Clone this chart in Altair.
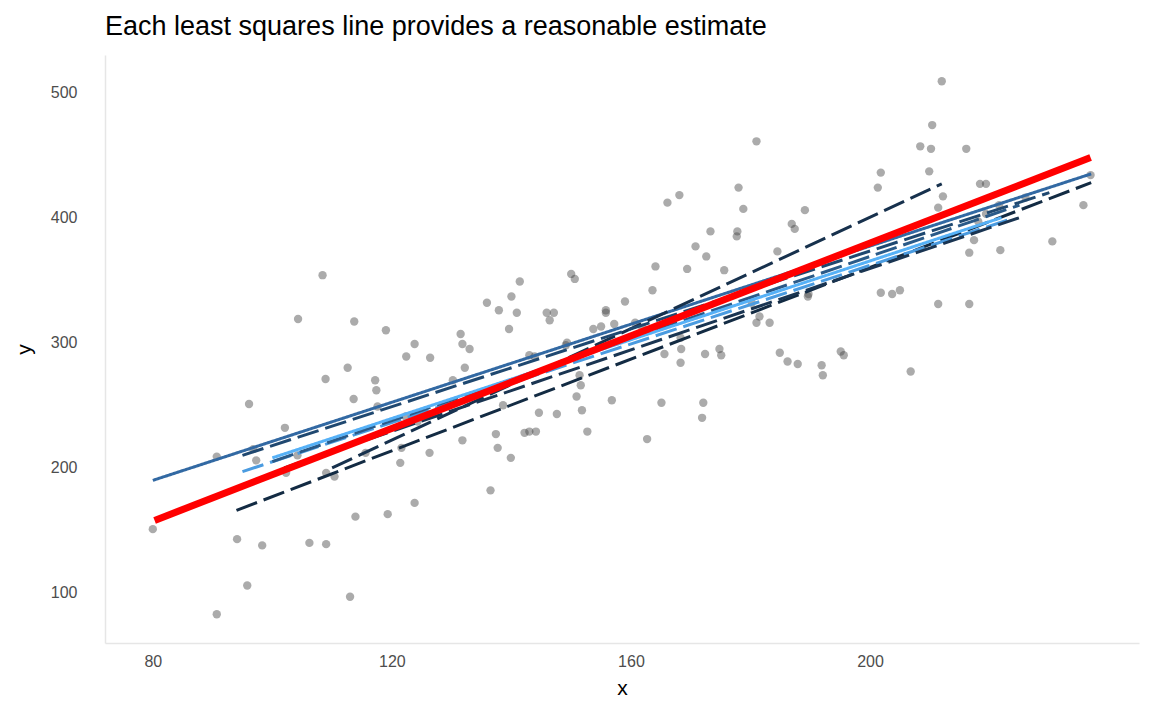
import pandas as pd
import altair as alt

# scatter points
px = [80, 90.7, 90.7, 94.1, 95.8, 96.1, 96.8, 97.3, 98.3, 102.1, 102.3, 104.2, 104.3, 106.2, 108.4,
      108.9, 109.0, 109.0, 110.4, 112.6, 113.0, 113.6, 113.7, 113.9, 115.6, 117.2, 117.4, 117.6, 119.0,
      119.3, 121.4, 121.6, 122.3, 122.4, 123.8, 123.8, 124.3, 126.3, 126.4, 130.2, 131.5, 131.8, 131.8,
      132.2, 133.0, 135.9, 136.5, 137.4, 137.7, 137.9, 138.6, 139.6, 139.9, 140.0, 140.9, 141.4, 142.2,
      143.0, 143.0, 143.9, 144.1, 144.6, 145.9, 146.4, 147.1, 147.6, 149.1, 149.3, 150.0, 150.6, 150.9,
      151.4, 151.6, 151.8, 152.7, 153.7, 155.0, 155.8, 155.8, 156.8, 157.2, 159.0, 160.7, 161.9, 162.7,
      163.6, 164.1, 165.1, 165.6, 166.1, 168.1, 168.3, 168.3, 168.4, 169.4, 170.8, 171.9, 172.1, 172.4,
      172.6, 173.3, 174.8, 175.1, 175.6, 177.7, 177.8, 178.0, 178.8, 180.2, 181.0, 181.0, 181.5, 183.2,
      184.5, 184.9, 186.2, 186.9, 187.4, 187.9, 189.1, 189.6, 189.7, 191.9, 192.1, 195.1, 195.6, 201.3,
      201.8, 201.8, 203.7, 205.0, 206.8, 208.4, 209.9, 210.2, 210.4, 211.4, 212.0, 211.4, 212.2, 216.1,
      216.6, 216.6, 217.4, 218.1, 218.4, 219.4, 219.4, 221.6, 221.8, 226.0, 230.5, 235.7, 236.9]
py = [151, 83, 209, 143, 106, 251, 215, 206, 138, 232, 196, 210, 319, 140, 354,
      271, 139, 196, 193, 280, 97, 255, 317, 161, 212, 270, 262, 249, 310,
      163, 204, 216, 241, 289, 299, 172, 237, 212, 288, 270, 307, 299, 222,
      280, 295, 332, 182, 227, 216, 326, 250, 311, 208, 337, 324, 349, 228,
      290, 229, 289, 229, 244, 324, 318, 324, 243, 298, 300, 355, 351, 257,
      274, 266, 246, 229, 311, 313, 324, 326, 254, 315, 333, 316, 312, 223,
      342, 361, 252, 291, 412, 418, 304, 284, 295, 359, 377, 240, 252, 291,
      369, 389, 295, 290, 358, 385, 389, 424, 407, 332, 461, 316, 321, 316,
      373, 292, 285, 395, 391, 283, 406, 337, 339, 282, 274, 293, 290, 424,
      436, 340, 339, 342, 277, 457, 437, 455, 474, 331, 509, 408, 417, 455,
      372, 331, 382, 397, 427, 427, 403, 410, 374, 416, 381, 410, 434]

# least squares lines: endpoints
line_id = ["a", "a", "b", "b", "c", "c", "d", "d", "e", "e", "f", "f", "g", "g", "h", "h"]
line_x = [94, 237, 80, 237, 95, 223, 110, 212, 100, 225, 95, 230, 100, 222, 102, 225]
line_y = [166, 428, 190, 435, 197, 398, 200, 427, 205, 410, 210, 420, 208, 400, 200, 400]
line_col = ["#132B43", "#132B43", "#3269A3", "#3269A3", "#4A9BE0", "#4A9BE0", "#17314D", "#17314D",
            "#2A5A88", "#2A5A88", "#1F4870", "#1F4870", "#56B1F7", "#56B1F7", "#1A3552", "#1A3552"]
line_dash = ["dashed", "dashed", "solid", "solid", "dashed", "dashed", "dashed", "dashed",
             "dashed", "dashed", "dashed", "dashed", "solid", "solid", "dashed", "dashed"]

red_x = [80.3, 236.9]
red_y = [158, 448]

pts = pd.DataFrame({"x": px, "y": py})
lines = pd.DataFrame({"id": line_id, "x": line_x, "y": line_y, "col": line_col, "dash": line_dash})
red = pd.DataFrame({"x": red_x, "y": red_y})

xs = alt.Scale(domain=[72, 245], nice=False, zero=False)
ys = alt.Scale(domain=[60, 530], nice=False, zero=False)
xax = alt.Axis(values=[80, 120, 160, 200], grid=False, ticks=False, title="x", labelPadding=10, titlePadding=8)
yax = alt.Axis(values=[100, 200, 300, 400, 500], grid=False, ticks=False, title="y",
               labelPadding=28, titlePadding=16)

points = alt.Chart(pts).mark_circle(size=70, color="#444444", opacity=0.45).encode(
    x=alt.X("x:Q", scale=xs, axis=xax),
    y=alt.Y("y:Q", scale=ys, axis=yax),
)

ls = alt.Chart(lines).mark_line(strokeWidth=3).encode(
    x="x:Q",
    y="y:Q",
    detail="id:N",
    color=alt.Color("col:N", scale=None),
    strokeDash=alt.StrokeDash("dash:N", scale=alt.Scale(domain=["solid", "dashed"], range=[[1, 0], [22, 7]]), legend=None),
)

redline = alt.Chart(red).mark_line(color="red", strokeWidth=7).encode(x="x:Q", y="y:Q")

chart = alt.layer(points, ls, redline).properties(
    width=1136, height=695,
    autosize=alt.AutoSizeParams(type="fit", contains="padding"),
    title=alt.Title("Each least squares line provides a reasonable estimate", anchor="start", frame="group",
                    fontSize=27, fontWeight="normal", font="Liberation Sans", color="black", offset=14),
).configure_view(stroke=None).configure_axis(
    domainColor="#e6e6e6", domainWidth=1.5, labelColor="#4d4d4d", labelFontSize=16,
    labelFont="Liberation Sans", titleFont="Liberation Sans", titleFontSize=21,
    titleFontWeight="normal", titleColor="black",
)

chart.save("out.html", embed_options={"renderer": "svg", "actions": False})
